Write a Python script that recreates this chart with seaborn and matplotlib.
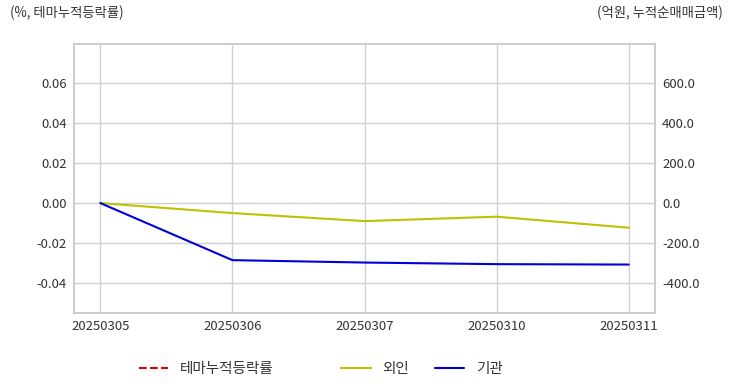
import matplotlib
matplotlib.use('Agg')
import matplotlib.pyplot as plt
import matplotlib.ticker as mticker
import numpy as np
import pandas as pd
import seaborn as sns

# data
dates = ['20250305', '20250306', '20250307', '20250310', '20250311']
theme_rate = [np.nan, np.nan, np.nan, np.nan, np.nan]   # 테마누적등락률 (no visible values)
foreign = [0.0, -50.0, -90.0, -68.0, -123.0]             # 외인, 억원
institution = [0.0, -285.0, -297.0, -305.0, -307.0]      # 기관, 억원

df = pd.DataFrame({'date': dates, 'theme': theme_rate,
                   'foreign': foreign, 'inst': institution})
df['pos'] = range(len(df))

sns.set_style('whitegrid')
plt.rcParams['font.family'] = ['Noto Sans CJK KR', 'DejaVu Sans']
plt.rcParams['axes.unicode_minus'] = False

fig, ax = plt.subplots(figsize=(7.32, 3.92), dpi=100)
fig.subplots_adjust(left=0.101, right=0.895, top=0.888, bottom=0.201)
ax2 = ax.twinx()

sns.lineplot(data=df, x='pos', y='theme', ax=ax, color='#e00000',
             linestyle='--', linewidth=1.5, label='테마누적등락률', legend=False)
sns.lineplot(data=df, x='pos', y='foreign', ax=ax2, color='#c0c000',
             linewidth=1.5, label='외인', legend=False)
sns.lineplot(data=df, x='pos', y='inst', ax=ax2, color='#0000dd',
             linewidth=1.5, label='기관', legend=False)

ax.set_xlim(-0.2, 4.2)
ax.set_ylim(-0.055, 0.0795)
ax2.set_ylim(-550, 795)
ax.set_xticks(df['pos'])
ax.set_xticklabels(dates)
ax.set_yticks([-0.04, -0.02, 0.0, 0.02, 0.04, 0.06])
ax.yaxis.set_major_formatter(mticker.FormatStrFormatter('%.2f'))
ax2.set_yticks([-400, -200, 0, 200, 400, 600])
ax2.yaxis.set_major_formatter(mticker.FormatStrFormatter('%.1f'))
ax2.grid(False)
ax.set_xlabel('')
ax.set_ylabel('')
ax2.set_ylabel('')

for a in (ax, ax2):
    a.tick_params(axis='both', length=0, labelsize=9.5, colors='#333333', pad=5)
    for s in a.spines.values():
        s.set_color('#cccccc')
        s.set_linewidth(1.2)
ax.grid(True, color='#d0d0d0', linewidth=1)

fig.text(0.013, 0.955, '(%, 테마누적등락률)', fontsize=9.6, color='#333333', ha='left')
fig.text(0.987, 0.955, '(억원, 누적순매매금액)', fontsize=9.6, color='#333333', ha='right')

# theme legend on its own, investors legend next to it
h1, l1 = ax.get_legend_handles_labels()
h2, l2 = ax2.get_legend_handles_labels()
leg1 = fig.legend(h1, l1, loc='center left', bbox_to_anchor=(0.1714, 0.059),
                  ncol=1, frameon=False, fontsize=10.5,
                  handlelength=2.0, handletextpad=0.8)
leg2 = fig.legend(h2, l2, loc='center left', bbox_to_anchor=(0.4484, 0.059),
                  ncol=2, frameon=False, fontsize=10.5, columnspacing=1.8,
                  handlelength=2.0, handletextpad=0.8)
for leg in (leg1, leg2):
    for t in leg.get_texts():
        t.set_color('#333333')

fig.savefig('out.png', dpi=100)
